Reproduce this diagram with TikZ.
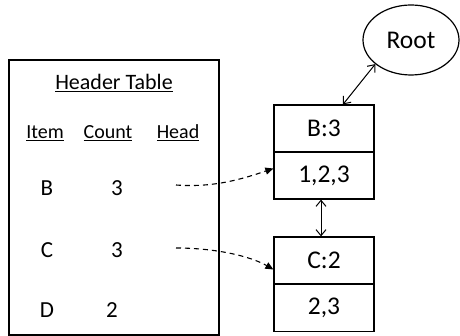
\documentclass[tikz,border=0pt]{standalone}
\usepackage{fontspec}
\setmainfont{Carlito}
\usetikzlibrary{arrows.meta,shapes.geometric,calc}

\tikzset{
  txt/.style={font=\fontsize{23}{26}\selectfont, inner sep=0pt},
  hdr/.style={font=\fontsize{20}{24}\selectfont, inner sep=0pt},
  cell/.style={draw, line width=1.2pt, minimum width=100pt, minimum height=47pt,
               inner sep=0pt, font=\fontsize{25.5}{28}\selectfont},
  link/.style={line width=1pt, {Straight Barb[length=6pt,width=10pt]}-{Straight Barb[length=6pt,width=10pt]}},
  headptr/.style={line width=1.1pt, dashed, dash pattern=on 5pt off 4pt, -{Triangle[length=8pt,width=7pt]}}
}

\begin{document}
\begin{tikzpicture}[x=1pt,y=-1pt]
  \useasboundingbox (0,0) rectangle (460,336);

  % header table frame
  \node[draw, line width=1.2pt, minimum width=210pt, minimum height=275pt, inner sep=0pt]
    (table) at (114,197.5) {};

  \node[inner sep=0pt, font=\fontsize{22}{26}\selectfont] (title) at (114,83) {\underline{Header Table}};
  \node[hdr] (hitem) at (45,133) {\underline{Item}};
  \node[hdr] (hcount) at (108,133) {\underline{Count}};
  \node[hdr] (hhead) at (178,133) {\underline{Head}};

  \node[txt] (ib) at (47,188) {B};
  \node[txt] (cb) at (117,188) {3};
  \node[txt] (ic) at (47,250) {C};
  \node[txt] (cc) at (117,250) {3};
  \node[txt] (id) at (47,310) {D};
  \node[txt] (cd) at (112,310) {2};

  \coordinate (pb) at (176,185);
  \coordinate (pc) at (176,248);

  % tree nodes
  \node[draw, ellipse, line width=1.2pt, minimum width=96pt, minimum height=70pt,
        inner sep=0pt, font=\fontsize{25.5}{28}\selectfont] (root) at (411,40) {Root};

  \node[cell] (btop) at (324,128.5) {B:3};
  \node[cell] (bbot) at (324,175.5) {1,2,3};
  \node[cell] (ctop) at (324,260.5) {C:2};
  \node[cell] (cbot) at (324,308) {2,3};

  % links
  \draw[link] (root.214) -- ($(btop.north)+(19,0)$);
  \draw[link] ($(bbot.south)+(-3,0)$) -- ($(ctop.north)+(-3,0)$);

  % head pointers
  \draw[headptr] (pb) .. controls (215,188) and (245,178) .. ($(bbot.west)+(0,-7)$);
  \draw[headptr] (pc) .. controls (215,248) and (250,256) .. ($(ctop.west)+(0,9)$);
\end{tikzpicture}
\end{document}
